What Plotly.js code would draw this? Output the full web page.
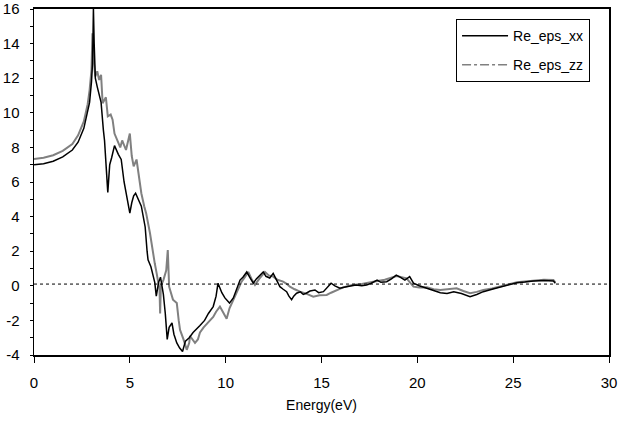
<!DOCTYPE html>
<html>
<head>
<meta charset="utf-8">
<script src="https://cdn.plot.ly/plotly-3.0.1.min.js"></script>
<style>html,body{margin:0;padding:0;background:#fff;}#chart{width:624px;height:421px;}</style>
</head>
<body>
<div id="chart"></div>
<script>
// Re_eps_xx (black)
const energyXX = [0,0.5,1.0,1.5,2.0,2.3,2.6,2.8,2.9,3.0,3.05,3.08,3.1,3.14,3.2,3.3,3.5,3.62,3.68,3.85,3.95,4.05,4.2,4.4,4.55,4.7,4.85,5.0,5.1,5.2,5.3,5.45,5.6,5.7,5.8,5.9,5.95,6.1,6.2,6.3,6.38,6.5,6.6,6.75,6.85,6.95,7.05,7.2,7.3,7.45,7.6,7.75,7.9,8.1,8.3,8.5,8.66,8.9,9.1,9.35,9.5,9.6,9.8,9.96,10.2,10.4,10.57,10.75,10.9,11.1,11.25,11.44,11.6,11.8,11.96,12.1,12.3,12.48,12.65,12.83,13.0,13.18,13.3,13.44,13.55,13.7,13.9,14.05,14.2,14.4,14.66,14.85,15.1,15.3,15.5,15.7,15.96,16.3,16.8,17.1,17.35,17.6,17.9,18.1,18.4,18.65,18.9,19.1,19.35,19.6,19.8,20.1,20.5,20.85,21.2,21.55,21.9,22.3,22.75,23.1,23.44,23.9,24.3,24.75,25.2,25.6,26.05,26.6,27.1,27.2];
const reEpsXX = [7.0,7.05,7.2,7.45,7.85,8.3,9.1,10.0,10.6,11.8,12.8,14.5,16.0,14.0,12.0,11.5,10.6,9.0,8.4,5.4,7.0,7.4,8.1,7.6,7.3,6.0,5.0,4.2,4.8,5.2,5.35,5.0,4.6,4.0,3.4,2.0,1.5,1.1,0.6,0.2,-0.6,0.2,0.5,-0.5,-1.6,-3.1,-2.4,-2.15,-2.8,-3.3,-3.6,-3.8,-3.2,-3.0,-2.7,-2.5,-2.3,-2.0,-1.6,-1.2,-0.6,0.15,-0.4,-0.7,-1.0,-0.7,-0.24,0.33,0.5,0.8,0.5,0.15,0.4,0.6,0.8,0.55,0.45,0.72,0.3,-0.05,-0.2,-0.34,-0.6,-0.8,-0.6,-0.43,-0.35,-0.5,-0.43,-0.3,-0.24,-0.4,-0.34,-0.1,0.15,0.0,-0.14,-0.05,0.05,0.0,0.05,0.15,0.33,0.2,0.24,0.4,0.62,0.5,0.33,0.53,0.15,0.0,-0.14,-0.25,-0.4,-0.45,-0.34,-0.45,-0.63,-0.5,-0.34,-0.2,-0.09,0.05,0.18,0.22,0.28,0.3,0.28,0.15];

// Re_eps_zz (gray)
const energyZZ = [0,0.5,1.0,1.5,2.0,2.3,2.6,2.8,2.9,3.0,3.05,3.12,3.2,3.3,3.4,3.5,3.58,3.75,3.85,4.0,4.1,4.2,4.5,4.6,4.8,5.0,5.1,5.2,5.35,5.5,5.6,5.75,5.85,6.05,6.15,6.3,6.4,6.55,6.58,6.62,6.75,6.9,6.98,7.05,7.25,7.45,7.55,7.62,7.8,7.97,8.1,8.14,8.4,8.55,8.66,8.85,9.1,9.35,9.5,9.7,9.85,10.05,10.2,10.4,10.6,10.83,11.0,11.18,11.35,11.53,11.75,12.05,12.25,12.48,12.7,13.0,13.2,13.35,13.6,13.88,14.2,14.57,14.9,15.27,15.5,15.8,16.13,16.6,17.1,17.7,18.3,18.92,19.2,19.44,19.8,20.1,20.5,20.85,21.2,21.6,22.05,22.4,22.75,23.1,23.44,23.9,24.3,24.75,25.2,25.6,26.05,26.6,27.1,27.2];
const reEpsZZ = [7.33,7.4,7.55,7.8,8.2,8.7,9.5,10.5,11.3,12.5,14.6,12.95,12.1,12.4,11.9,12.2,10.55,10.9,9.8,9.9,9.6,8.8,8.0,8.4,7.85,8.8,7.5,6.9,7.3,6.1,5.35,4.6,4.2,3.05,2.26,1.3,0.72,-0.24,-1.6,0.0,0.33,0.9,2.07,-0.05,-0.8,-1.0,-2.0,-2.55,-3.1,-3.7,-3.3,-2.9,-3.3,-3.1,-2.7,-2.4,-2.1,-1.8,-1.5,-1.2,-1.5,-1.9,-1.3,-0.8,-0.3,0.24,0.5,0.8,0.4,0.05,0.4,0.8,0.6,0.53,0.35,0.24,0.1,-0.05,-0.2,-0.34,-0.45,-0.63,-0.55,-0.53,-0.4,-0.24,-0.09,0.05,0.1,0.24,0.35,0.57,0.5,0.43,-0.05,-0.1,-0.09,-0.2,-0.24,-0.2,-0.14,-0.3,-0.43,-0.35,-0.24,-0.15,-0.05,0.1,0.2,0.25,0.3,0.35,0.33,0.2];

const refLevel = 0.1;
const seriesNames = ['Re_eps_xx', 'Re_eps_zz'];
const xTicks = [0,5,10,15,20,25,30];
const yTicks = [-4,-2,0,2,4,6,8,10,12,14,16];

const FONT = 'Liberation Sans, Arial, sans-serif';

const traces = [
  {x: energyZZ, y: reEpsZZ, mode: 'lines', line: {color: '#808080', width: 2}, showlegend: false, hoverinfo: 'skip'},
  {x: energyXX, y: reEpsXX, mode: 'lines', line: {color: '#000000', width: 1.5}, showlegend: false, hoverinfo: 'skip'},
  {x: [null], y: [null], mode: 'lines', name: seriesNames[0], legendgroup: 'a', line: {color: '#000000', width: 1.5}},
  {x: [null], y: [null], mode: 'lines', name: seriesNames[1], legendgroup: 'b', line: {color: '#808080', width: 1.5, dash: 'dashdot'}}
];

const layout = {
  width: 624, height: 421,
  margin: {l: 34, r: 15, t: 9, b: 66},
  paper_bgcolor: '#ffffff', plot_bgcolor: '#ffffff',
  font: {family: FONT, size: 14, color: '#000'},
  showlegend: true,
  legend: {
    x: 0.734, y: 0.971, xanchor: 'left', yanchor: 'top',
    bordercolor: '#000', borderwidth: 1, bgcolor: '#fff',
    font: {family: FONT, size: 14, color: '#000'},
    itemwidth: 46, traceorder: 'grouped', tracegroupgap: 8
  },
  xaxis: {
    range: [0, 30], tickvals: xTicks, ticktext: xTicks.map(String),
    showgrid: false, zeroline: false,
    showline: true, linecolor: '#000', linewidth: 2, mirror: true,
    ticks: 'outside', ticklen: 6, tickwidth: 1, tickcolor: '#000',
    tickfont: {family: FONT, size: 15}, ticklabelstandoff: 7,
    title: {text: 'Energy(eV)', font: {family: FONT, size: 14}, standoff: 10}
  },
  yaxis: {
    range: [-4, 16], tickvals: yTicks, ticktext: yTicks.map(String),
    showgrid: false, zeroline: false,
    showline: true, linecolor: '#000', linewidth: 1.5, mirror: true,
    ticks: 'outside', ticklen: 3, tickwidth: 1, tickcolor: '#000',
    tickfont: {family: FONT, size: 15}, ticklabelstandoff: 7,
    minor: {dtick: 1, ticks: 'outside', ticklen: 3, tickcolor: '#000', showgrid: false}
  },
  shapes: [
    {type: 'line', xref: 'paper', x0: 0, x1: 1, yref: 'y', y0: refLevel, y1: refLevel,
     line: {color: '#000', width: 1, dash: 'dot'}}
  ]
};

Plotly.newPlot('chart', traces, layout, {displayModeBar: false, staticPlot: true});
</script>
</body>
</html>
